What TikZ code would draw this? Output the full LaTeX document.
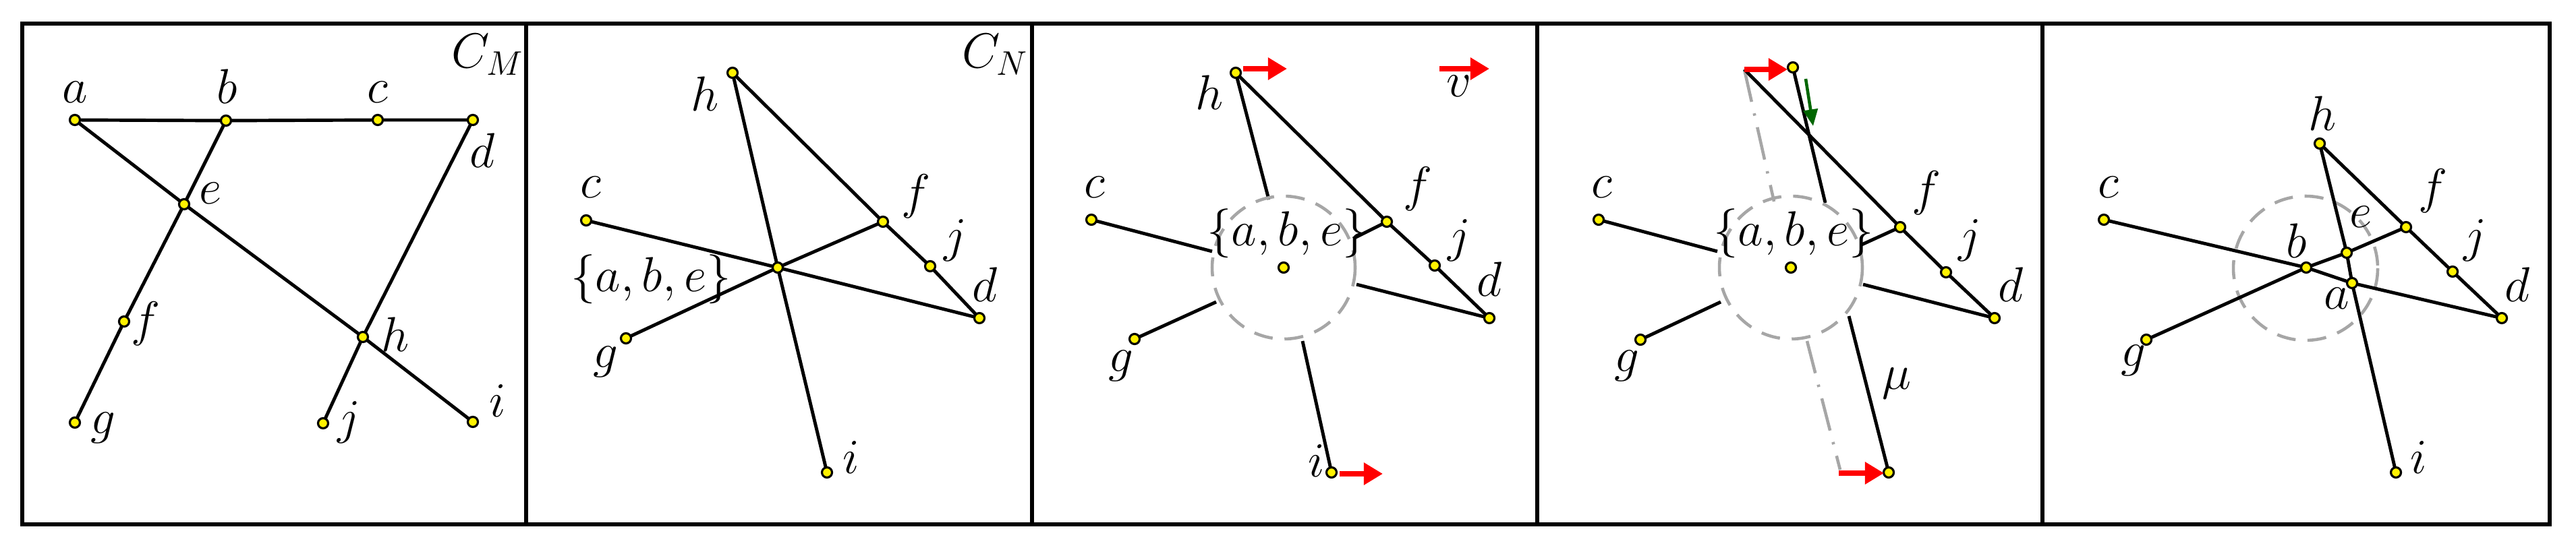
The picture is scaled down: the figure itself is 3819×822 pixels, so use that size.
\documentclass[tikz,border=0pt]{standalone}
\usetikzlibrary{arrows.meta}
\tikzset{
  vx/.style={circle,draw=black,fill=yellow,line width=0.9pt,inner sep=0pt,minimum size=0.15cm},
  lb/.style={inner sep=0pt,font=\fontsize{21}{24}\selectfont},
  ed/.style={line width=1.4pt},
  frame/.style={line width=1.6pt},
  dcirc/.style={draw=gray!70,line width=1.3pt,dash pattern=on 8pt off 5pt},
  mv/.style={draw=red,line width=2pt,-{Triangle[length=8pt,width=9pt]}},
  gmv/.style={draw=green!40!black,line width=1.3pt,-{Triangle[length=7pt,width=6pt]}},
  ghost/.style={draw=gray!70,line width=1.3pt,dash pattern=on 14pt off 5pt on 1pt off 5pt}
}
\begin{document}
\begin{tikzpicture}[x=0.01cm,y=-0.01cm]
\useasboundingbox (0,0) rectangle (3819,822);
\draw[frame] (33,35) rectangle (3780,778);
\foreach \xx in {780,1530,2279,3028} \draw[frame] (\xx,35) -- (\xx,778);

% ---------- Panel 1 ----------
\coordinate (a1) at (111,178);
\coordinate (b1) at (335,179);
\coordinate (c1) at (560,178);
\coordinate (d1) at (701,178);
\coordinate (e1) at (273,303);
\coordinate (f1) at (184,477);
\coordinate (g1) at (111,627);
\coordinate (h1) at (538,500);
\coordinate (j1) at (479,628);
\coordinate (i1) at (701,626);
\draw[ed] (a1)--(b1)--(c1)--(d1);
\draw[ed] (a1)--(e1)--(h1)--(i1);
\draw[ed] (b1)--(e1)--(f1)--(g1);
\draw[ed] (d1)--(h1)--(j1);
\foreach \n in {a1,b1,c1,d1,e1,f1,g1,h1,j1,i1} \node[vx] at (\n) {};
\node[lb] (la1) at (111,137) {$a$};
\node[lb] (lb1) at (337,128) {$b$};
\node[lb] (lc1) at (560,137) {$c$};
\node[lb] (ld1) at (715,223) {$d$};
\node[lb] (le1) at (312,287) {$e$};
\node[lb] (lf1) at (216,480) {$f$};
\node[lb] (lg1) at (153,635) {$g$};
\node[lb] (lh1) at (586,496) {$h$};
\node[lb] (lj1) at (517,627) {$j$};
\node[lb] (li1) at (738,595) {$i$};
\node[lb] (cm) at (723,81) {$C_M$};

% ---------- Panel 2 ----------
\coordinate (h2) at (1086,108);
\coordinate (c2) at (869,327);
\coordinate (x2) at (1153,397);
\coordinate (f2) at (1309,329);
\coordinate (j2) at (1379,395);
\coordinate (d2) at (1452,472);
\coordinate (g2) at (928,502);
\coordinate (i2) at (1226,701);
\draw[ed] (h2)--(x2)--(i2);
\draw[ed] (c2)--(x2)--(d2);
\draw[ed] (g2)--(x2)--(f2);
\draw[ed] (h2)--(f2)--(j2)--(d2);
\foreach \n in {h2,c2,x2,f2,j2,d2,g2,i2} \node[vx] at (\n) {};
\node[lb] (lh2) at (1045,139) {$h$};
\node[lb] (lc2) at (876,278) {$c$};
\node[lb] (lx2) at (965,414) {$\{a,b,e\}$};
\node[lb] (lf2) at (1358,291) {$f$};
\node[lb] (lj2) at (1416,357) {$j$};
\node[lb] (ld2) at (1460,422) {$d$};
\node[lb] (lg2) at (898,537) {$g$};
\node[lb] (li2) at (1262,679) {$i$};
\node[lb] (cn) at (1475,81) {$C_N$};

% ---------- Panel 3 ----------
\coordinate (h3) at (1832,108);
\coordinate (c3) at (1618,326);
\coordinate (x3) at (1903,397);
\coordinate (f3) at (2056,329);
\coordinate (j3) at (2127,394);
\coordinate (d3) at (2208,472);
\coordinate (g3) at (1682,503);
\coordinate (i3) at (1974,701);
\coordinate (ch3) at (1881,296);
\coordinate (cc3) at (1797,373);
\coordinate (cg3) at (1803,448);
\coordinate (cf3) at (2006,354);
\coordinate (cd3) at (2011,422);
\coordinate (ci3) at (1931,506);
\draw[ed] (h3)--(ch3) (c3)--(cc3) (g3)--(cg3) (f3)--(cf3) (d3)--(cd3) (i3)--(ci3);
\draw[ed] (h3)--(f3)--(j3)--(d3);
\draw[dcirc] (x3) circle[radius=106];
\foreach \n in {h3,c3,x3,f3,j3,d3,g3,i3} \node[vx] at (\n) {};
\coordinate (hs3) at (1843,102); \coordinate (he3) at (1908,102);
\draw[mv] (hs3) -- (he3);
\coordinate (is3) at (1986,703); \coordinate (ie3) at (2050,703);
\draw[mv] (is3) -- (ie3);
\coordinate (vs) at (2134,102); \coordinate (ve) at (2208,102);
\draw[mv] (vs) -- (ve);
\node[lb] (lv) at (2163,128) {$v$};
\node[lb] (lh3) at (1793,137) {$h$};
\node[lb] (lc3) at (1623,278) {$c$};
\node[lb] (lx3) at (1908,346) {$\{a,b,e\}$};
\node[lb] (lf3) at (2102,280) {$f$};
\node[lb] (lj3) at (2163,357) {$j$};
\node[lb] (ld3) at (2208,414) {$d$};
\node[lb] (lg3) at (1662,543) {$g$};
\node[lb] (li3) at (1952,684) {$i$};

% ---------- Panel 4 ----------
\coordinate (oh4) at (2586,103);
\coordinate (h4) at (2658,100);
\coordinate (c4) at (2370,326);
\coordinate (x4) at (2655,397);
\coordinate (f4) at (2817,337);
\coordinate (j4) at (2885,404);
\coordinate (d4) at (2957,472);
\coordinate (g4) at (2432,504);
\coordinate (i4) at (2800,701);
\coordinate (ch4) at (2706,301);
\coordinate (cc4) at (2546,373);
\coordinate (cg4) at (2551,448);
\coordinate (cf4) at (2760,363);
\coordinate (cd4) at (2762,422);
\coordinate (ci4) at (2741,469);
\coordinate (gh4) at (2630,299);
\coordinate (gi4) at (2679,506);
\coordinate (gi4e) at (2728,697);
\draw[ghost] (oh4)--(gh4) (gi4)--(gi4e);
\draw[ed] (h4)--(ch4) (c4)--(cc4) (g4)--(cg4) (f4)--(cf4) (d4)--(cd4) (i4)--(ci4);
\draw[ed] (oh4)--(f4)--(j4)--(d4);
\draw[dcirc] (x4) circle[radius=106];
\foreach \n in {h4,c4,x4,f4,j4,d4,g4,i4} \node[vx] at (\n) {};
\coordinate (ghs) at (2677,117); \coordinate (ghe) at (2688,187);
\draw[gmv] (ghs) -- (ghe);
\coordinate (hs4) at (2586,103); \coordinate (he4) at (2650,103);
\draw[mv] (hs4) -- (he4);
\coordinate (is4) at (2726,702); \coordinate (ie4) at (2793,702);
\draw[mv] (is4) -- (ie4);
\node[lb] (lc4) at (2375,278) {$c$};
\node[lb] (lx4) at (2659,346) {$\{a,b,e\}$};
\node[lb] (lf4) at (2856,286) {$f$};
\node[lb] (lj4) at (2920,357) {$j$};
\node[lb] (ld4) at (2981,422) {$d$};
\node[lb] (lg4) at (2412,543) {$g$};
\node[lb] (lmu) at (2812,569) {$\mu$};

% ---------- Panel 5 ----------
\coordinate (h5) at (3439,213);
\coordinate (c5) at (3119,326);
\coordinate (b5) at (3419,397);
\coordinate (e5) at (3479,375);
\coordinate (a5) at (3487,420);
\coordinate (f5) at (3567,337);
\coordinate (j5) at (3636,403);
\coordinate (d5) at (3709,472);
\coordinate (g5) at (3182,504);
\coordinate (i5) at (3552,701);
\coordinate (o5) at (3418,398);
\draw[dcirc] (o5) circle[radius=107];
\draw[ed] (c5)--(b5)--(a5)--(d5);
\draw[ed] (g5)--(b5)--(e5)--(f5);
\draw[ed] (h5)--(e5)--(a5)--(i5);
\draw[ed] (h5)--(f5)--(j5)--(d5);
\foreach \n in {h5,c5,b5,e5,a5,f5,j5,d5,g5,i5} \node[vx] at (\n) {};
\node[lb] (lh5) at (3443,168) {$h$};
\node[lb] (lc5) at (3126,278) {$c$};
\node[lb] (lb5) at (3405,357) {$b$};
\node[lb] (le5) at (3500,322) {$e$};
\node[lb] (la5) at (3464,443) {$a$};
\node[lb] (lf5) at (3607,283) {$f$};
\node[lb] (lj5) at (3669,357) {$j$};
\node[lb] (ld5) at (3732,422) {$d$};
\node[lb] (lg5) at (3163,535) {$g$};
\node[lb] (li5) at (3586,679) {$i$};
\end{tikzpicture}
\end{document}
